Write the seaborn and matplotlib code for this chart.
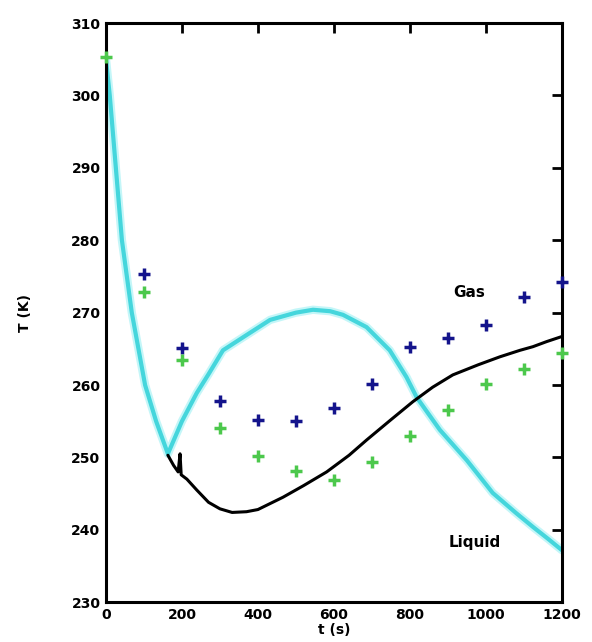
import matplotlib
matplotlib.use("Agg")
import matplotlib.pyplot as plt
import numpy as np
import pandas as pd
import seaborn as sns

# measured points (+ markers)
t_pts = [100, 200, 300, 400, 500, 600, 700, 800, 900, 1000, 1100, 1200]
gas_T = [275.3, 265.1, 257.8, 255.2, 255.0, 256.8, 260.1, 265.2, 266.5, 268.3, 272.2, 274.3]
t_liq = [0, 100, 200, 300, 400, 500, 600, 700, 800, 900, 1000, 1100, 1200]
liq_T = [305.3, 272.8, 263.5, 254.1, 250.2, 248.1, 246.9, 249.4, 252.9, 256.5, 260.1, 262.2, 264.4]

# model curves
cyan_t = [0, 10, 26, 42, 68, 103, 132, 163, 200, 239, 270, 308, 361, 432, 500, 545,
          590, 624, 686, 747, 791, 818, 879, 950, 1018, 1080, 1124, 1165, 1200]
cyan_T = [305, 300, 290, 280, 270, 260, 255, 250.5, 255, 258.9, 261.5, 264.8, 266.6, 269.0,
          270.0, 270.4, 270.2, 269.7, 268.0, 264.8, 261.1, 258.3, 253.8, 249.6, 245.1,
          242.3, 240.4, 238.7, 237.2]
black_t = [163, 178, 190, 195, 198, 213, 239, 270, 300, 332, 370, 400, 466, 520, 581, 640,
           686, 750, 808, 860, 913, 980, 1037, 1090, 1124, 1160, 1200]
black_T = [250.3, 248.9, 248.0, 250.5, 247.6, 247.0, 245.5, 243.8, 242.9, 242.4, 242.5, 242.8,
           244.5, 246.1, 248.0, 250.3, 252.4, 255.2, 257.7, 259.7, 261.4, 262.8, 263.9, 264.8,
           265.3, 266.0, 266.7]

x_ticks = [0, 200, 400, 600, 800, 1000, 1200]
y_ticks = [230, 240, 250, 260, 270, 280, 290, 300, 310]

sns.set_style("white")
plt.rcParams['font.family'] = ['DejaVu Sans']

fig = plt.figure(figsize=(5.92, 6.42), dpi=100)
ax = fig.add_axes([0.179, 0.062, 0.770, 0.902])

cyan = pd.DataFrame({'t': cyan_t, 'T': cyan_T})
black = pd.DataFrame({'t': black_t, 'T': black_T})
sns.lineplot(data=cyan, x='t', y='T', ax=ax, color='#c4f6f8', linewidth=6, sort=False)
sns.lineplot(data=cyan, x='t', y='T', ax=ax, color='#45d6dc', linewidth=3, sort=False)
sns.lineplot(data=black, x='t', y='T', ax=ax, color='black', linewidth=2.2, sort=False)

gas = pd.DataFrame({'t': t_pts, 'T': gas_T})
liq = pd.DataFrame({'t': t_liq, 'T': liq_T})
sns.scatterplot(data=gas, x='t', y='T', ax=ax, marker='+', s=70, color='#14148c',
                linewidth=2.5, clip_on=False, zorder=5)
sns.scatterplot(data=liq, x='t', y='T', ax=ax, marker='+', s=70, color='#4cc84c',
                linewidth=2.5, clip_on=False, zorder=5)

ax.text(955, 272.8, 'Gas', fontsize=11, fontweight='bold', ha='center', va='center',
        color='black')
ax.text(971, 238.2, 'Liquid', fontsize=11, fontweight='bold', ha='center', va='center',
        color='black')

ax.set_xlim(0, 1200)
ax.set_ylim(230, 310)
ax.set_xticks(x_ticks)
ax.set_yticks(y_ticks)
ax.tick_params(direction='in', length=7, width=2, top=True, right=True,
               labelsize=10, pad=4, colors='black')
for lab in ax.get_xticklabels() + ax.get_yticklabels():
    lab.set_fontweight('bold')
for sp in ax.spines.values():
    sp.set_linewidth(2.2)
    sp.set_color('black')
ax.set_xlabel('t (s)', fontsize=10, fontweight='bold', labelpad=1, color='black')
ax.set_ylabel('T (K)', fontsize=10, fontweight='bold', labelpad=28, color='black')

fig.savefig('out.png', dpi=100)
